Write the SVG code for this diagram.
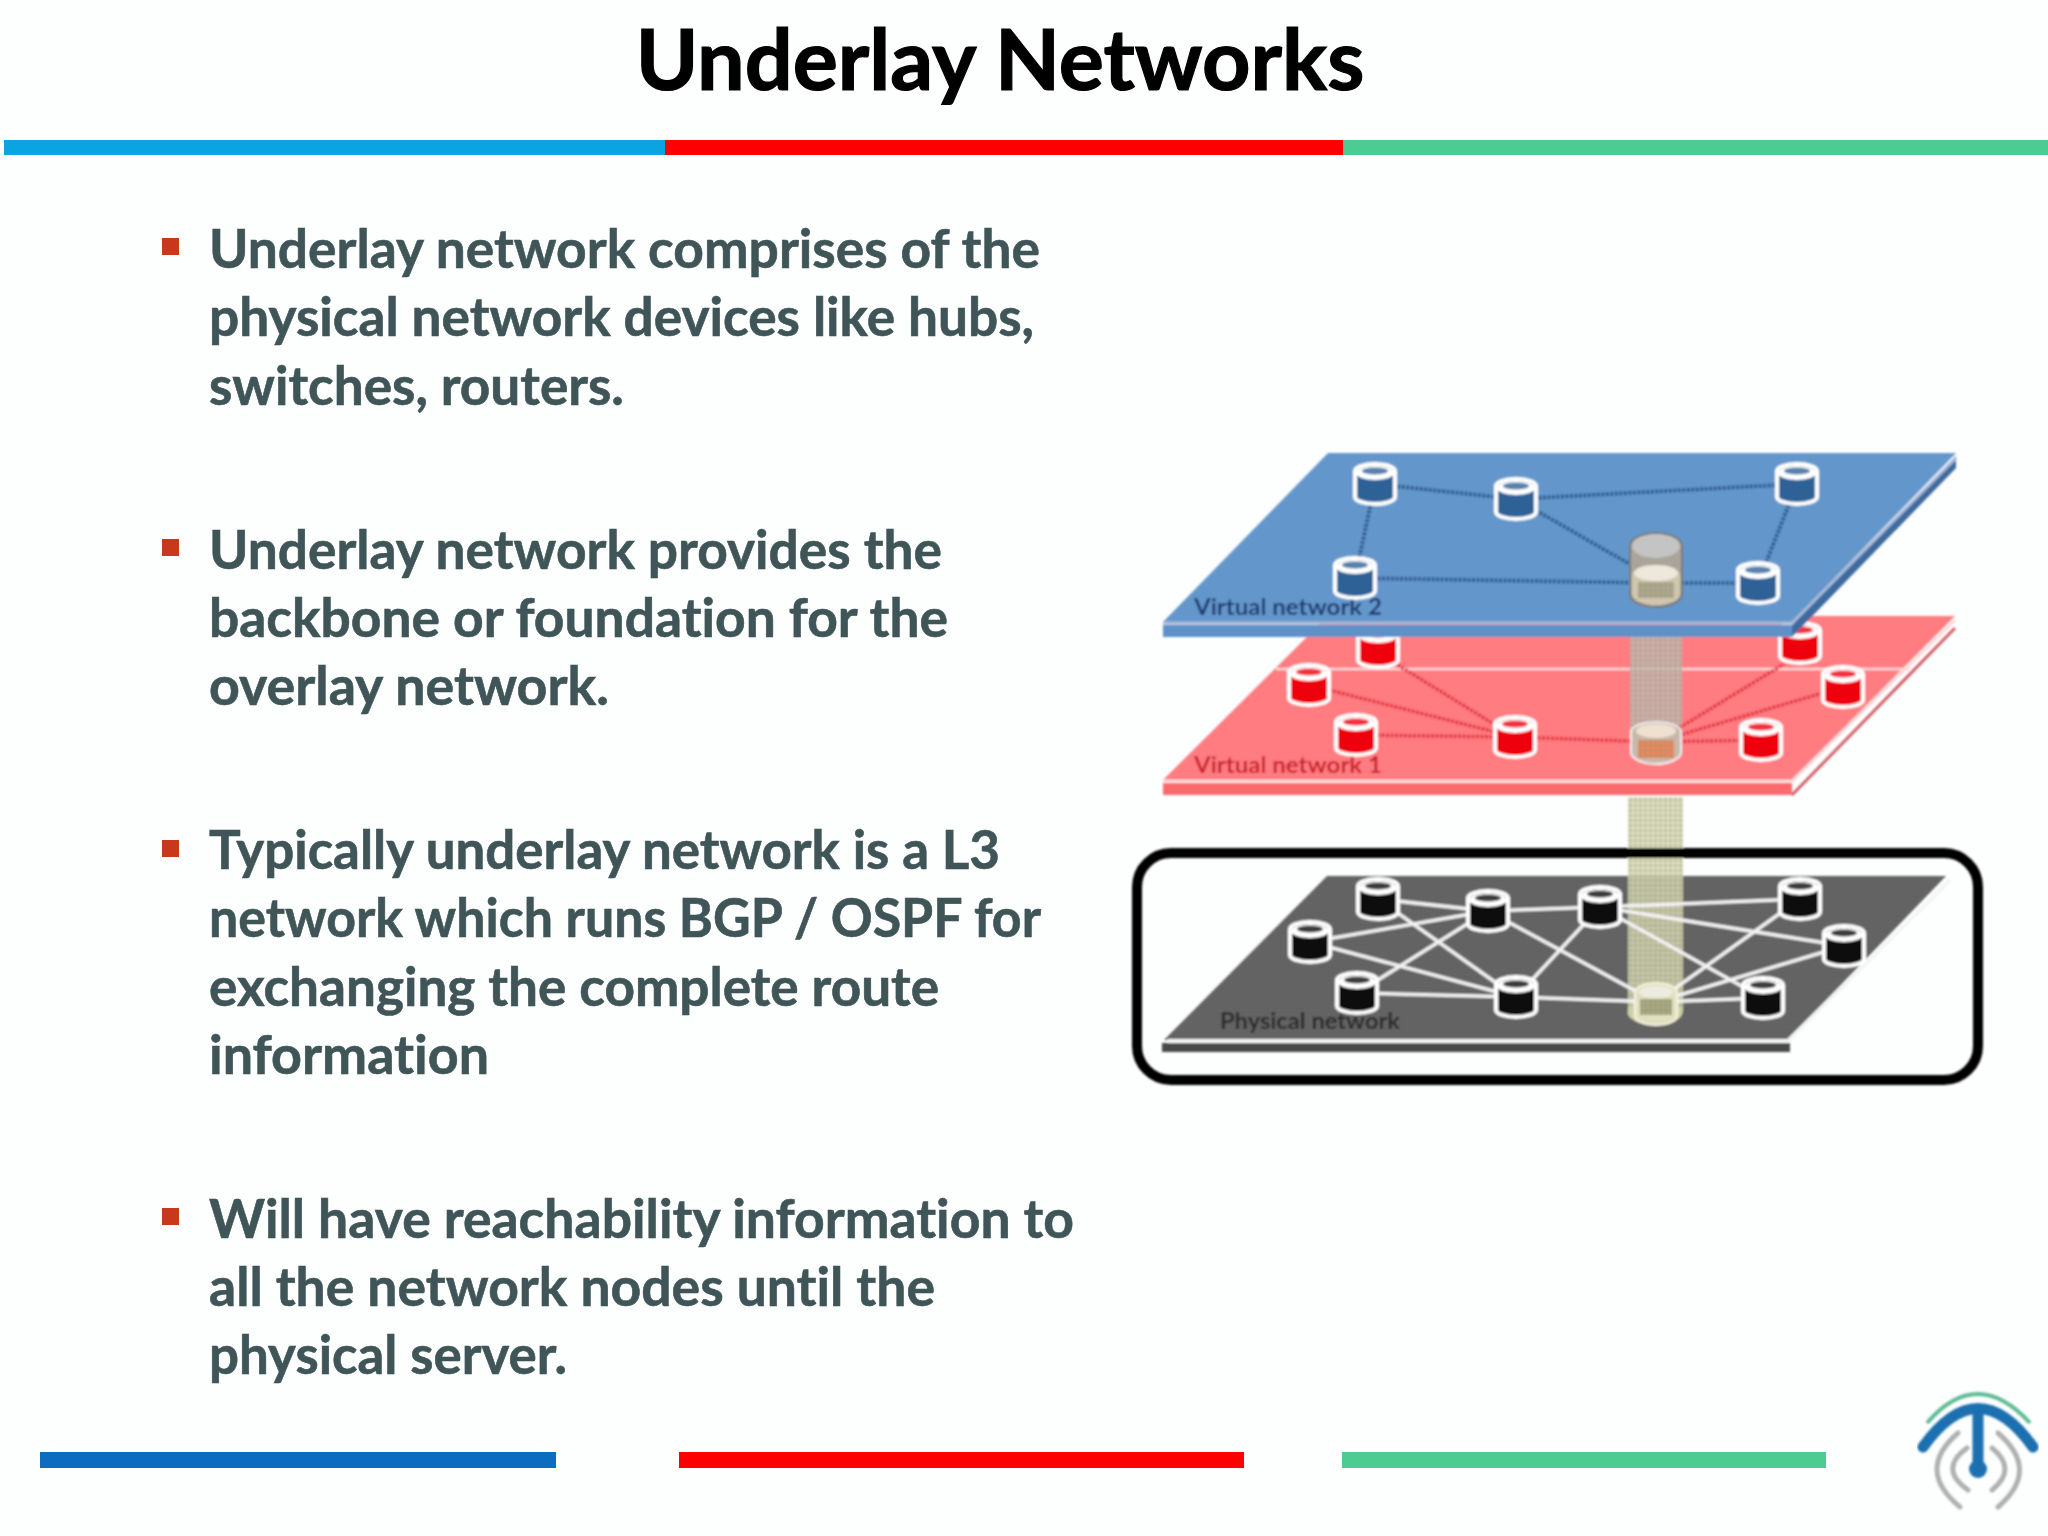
<svg xmlns="http://www.w3.org/2000/svg" width="2048" height="1536" viewBox="0 0 2048 1536">
<style>
.title{font:700 84.500px Lato,"Liberation Sans",sans-serif;fill:#000;text-anchor:middle;stroke:#000;stroke-width:1.2;font-variant-ligatures:none}
.body{font:700 53px Lato,"Liberation Sans",sans-serif;fill:#3f5557;stroke:#3f5557;stroke-width:.6;font-variant-ligatures:none}
.bullet{fill:#c8381a}
.lbl{font:700 23px Lato,"Liberation Sans",sans-serif;font-variant-ligatures:none}
.blue{color:#2f6297}.red{color:#ee0010}.blk{color:#0c0c0c}
.lb{stroke:#2c5a90;stroke-width:4;stroke-dasharray:3 1.5;fill:none}
.lr{stroke:#e0303c;stroke-width:3.500;stroke-dasharray:3 1.5;fill:none}
.lk{stroke:#f2f2f2;stroke-width:3.500;fill:none}
.gr{stroke:#b0b0b0;stroke-width:5;fill:none;stroke-linecap:round}
</style>
<defs>
<filter id="soft" x="-5%" y="-5%" width="110%" height="110%"><feGaussianBlur stdDeviation="0.8"/></filter>
<pattern id="grid" width="4" height="4" patternUnits="userSpaceOnUse"><rect width="4" height="4" fill="#686868"/><path d="M0 0H4M0 0V4" stroke="#555" stroke-width="1"/></pattern>
<pattern id="tubeg" width="5" height="5" patternUnits="userSpaceOnUse"><path d="M0 0H5M0 0V5" stroke="#8a8a70" stroke-width="0.8" fill="none"/></pattern>
<g id="cyl">
<path d="M-20 -13V13A20 7 0 0 0 20 13V-13A20 7 0 0 0 -20 -13Z" fill="currentColor" stroke="#fff" stroke-width="4"/>
<ellipse cx="0" cy="-11" rx="19" ry="7" fill="#fff"/>
<ellipse cx="0" cy="-13" rx="13" ry="3.500" fill="currentColor" opacity=".8"/>
</g>
</defs>
<rect id="background" width="2048" height="1536" fill="#fdfefe"/>
<text class="title" x="1000" y="90">Underlay Networks</text>
<g id="top-bar"><rect x="4" y="140" width="661" height="15" fill="#0aa5e0"/><rect x="665" y="140" width="678" height="15" fill="#ff0000"/><rect x="1343" y="140" width="705" height="15" fill="#4ccb93"/></g>
<g id="bullets">
<rect class="bullet" x="162" y="238" width="17" height="17"/>
<rect class="bullet" x="162" y="539" width="17" height="17"/>
<rect class="bullet" x="162" y="840" width="17" height="17"/>
<rect class="bullet" x="162" y="1208" width="17" height="17"/>
<text class="body" x="209" y="268" textLength="831" lengthAdjust="spacingAndGlyphs">Underlay network comprises of the</text>
<text class="body" x="209" y="336" textLength="825" lengthAdjust="spacingAndGlyphs">physical network devices like hubs,</text>
<text class="body" x="209" y="405" textLength="415" lengthAdjust="spacingAndGlyphs">switches, routers.</text>
<text class="body" x="209" y="569" textLength="733" lengthAdjust="spacingAndGlyphs">Underlay network provides the</text>
<text class="body" x="209" y="637" textLength="739" lengthAdjust="spacingAndGlyphs">backbone or foundation for the</text>
<text class="body" x="209" y="705" textLength="400" lengthAdjust="spacingAndGlyphs">overlay network.</text>
<text class="body" x="209" y="869" textLength="791" lengthAdjust="spacingAndGlyphs">Typically underlay network is a L3</text>
<text class="body" x="209" y="937" textLength="832" lengthAdjust="spacingAndGlyphs">network which runs BGP / OSPF for</text>
<text class="body" x="209" y="1006" textLength="730" lengthAdjust="spacingAndGlyphs">exchanging the complete route</text>
<text class="body" x="209" y="1074" textLength="280" lengthAdjust="spacingAndGlyphs">information</text>
<text class="body" x="209" y="1238" textLength="865" lengthAdjust="spacingAndGlyphs">Will have reachability information to</text>
<text class="body" x="209" y="1306" textLength="726" lengthAdjust="spacingAndGlyphs">all the network nodes until the</text>
<text class="body" x="209" y="1374" textLength="358" lengthAdjust="spacingAndGlyphs">physical server.</text>
</g>
<g id="diagram" filter="url(#soft)">
<g id="plane-physical">
<polygon points="1327,876 1946,876 1788,1040 1164,1040" fill="url(#grid)"/>
<rect x="1162" y="1043" width="628" height="9" fill="#4a4a4a"/>
<path d="M1168 1041H1788L1950 880" stroke="#f4f4f4" stroke-width="4" fill="none"/>
<text class="lbl" x="1220" y="1029" fill="#2a2a2a" textLength="180" lengthAdjust="spacingAndGlyphs">Physical network</text>
</g>
<g id="tube-lower"><rect x="1628" y="797" width="55" height="215" fill="#d8d8b4" opacity=".85"/><rect x="1628" y="797" width="55" height="215" fill="url(#tubeg)"/><ellipse cx="1655" cy="1012" rx="27.500" ry="13" fill="#d0d0a8"/></g>
<g id="plane-red">
<polygon points="1328,616 1955,616 1792,780 1163,780" fill="#ff7c80"/>
<rect x="1163" y="783" width="629" height="12" fill="#f96a6e"/>
<path d="M1163 781H1792L1955 620" stroke="#ffd8d8" stroke-width="3" fill="none"/>
<path d="M1792 795L1955 628" stroke="#d06068" stroke-width="3" fill="none"/>
<path d="M1276 669H1910" stroke="#ffd8d8" stroke-width="2.500"/>
<text class="lbl" x="1194" y="773" fill="#c9202c" textLength="188" lengthAdjust="spacingAndGlyphs">Virtual network 1</text>
</g>
<g id="node-r1" class="red"><use href="#cyl" x="1378" y="647"/></g>
<g id="node-r2" class="red"><use href="#cyl" x="1800" y="643"/></g>
<g id="tube-upper"><rect x="1630" y="630" width="52" height="123" fill="#c4bdb4" opacity=".8"/><rect x="1630" y="630" width="52" height="123" fill="url(#tubeg)"/></g>
<g id="plane-blue">
<polygon points="1328,453 1956,453 1792,622 1163,622" fill="#6497cb"/>
<rect x="1163" y="625" width="629" height="12" fill="#5f91c9"/>
<polygon points="1956,456 1956,468 1792,637 1792,625" fill="#3d6a9f"/>
<path d="M1163 623H1792L1956 458" stroke="#a8b8d8" stroke-width="3" fill="none"/>
<text class="lbl" x="1194" y="615" fill="#1f3a70" textLength="188" lengthAdjust="spacingAndGlyphs">Virtual network 2</text>
</g>
<g id="connectors">
<path class="lb" d="M1375 484L1516 499M1516 499L1797 484M1375 484L1355 578M1797 484L1758 583M1516 499L1654 578M1355 578L1654 583M1654 583L1758 583"/>
<path class="lr" d="M1515 737L1396 664M1515 737L1309 685M1515 737L1356 735M1515 737L1656 742M1656 742L1784 664M1656 742L1843 687M1656 742L1761 740"/>
<path class="lk" d="M1378 899L1488 911M1378 899L1516 997M1310 942L1488 911M1310 942L1516 997M1357 993L1488 911M1357 993L1516 997M1488 911L1600 907M1488 911L1656 1002M1600 907L1516 997M1516 997L1656 1002M1600 907L1800 899M1600 907L1844 946M1600 907L1763 998M1800 899L1656 1002M1844 946L1656 1002M1656 1002L1763 998"/>
</g>
<g id="node-b1" class="blue"><use href="#cyl" x="1375" y="484"/></g>
<g id="node-b2" class="blue"><use href="#cyl" x="1516" y="499"/></g>
<g id="node-b3" class="blue"><use href="#cyl" x="1797" y="484"/></g>
<g id="node-b4" class="blue"><use href="#cyl" x="1355" y="578"/></g>
<g id="node-b5" class="blue"><use href="#cyl" x="1758" y="583"/></g>
<g id="node-b-center">
<path d="M1630 546V594A26 13 0 0 0 1682 594V546A26 13 0 0 0 1630 546Z" fill="#aaa49a" stroke="#777" stroke-width="2"/>
<ellipse cx="1656" cy="546" rx="24" ry="12" fill="#c4c4c4"/>
<path d="M1632 575V594A24 11 0 0 0 1680 594V575A24 10 0 0 0 1632 575Z" fill="#d0c6ae"/>
<ellipse cx="1656" cy="573" rx="22" ry="8" fill="#ece8dc"/>
<rect x="1638" y="582" width="36" height="16" fill="#b0a890"/>
<rect x="1638" y="582" width="36" height="16" fill="url(#tubeg)"/>
</g>
<g id="node-r3" class="red"><use href="#cyl" x="1309" y="685"/></g>
<g id="node-r4" class="red"><use href="#cyl" x="1843" y="687"/></g>
<g id="node-r5" class="red"><use href="#cyl" x="1356" y="735"/></g>
<g id="node-r6" class="red"><use href="#cyl" x="1515" y="737"/></g>
<g id="node-r7" class="red"><use href="#cyl" x="1761" y="740"/></g>
<g id="node-r-center">
<path d="M1631 732V752A25 12 0 0 0 1681 752V732A25 10 0 0 0 1631 732Z" fill="#c8b8a8" stroke="#eee" stroke-width="2"/>
<ellipse cx="1656" cy="731" rx="20" ry="7" fill="#f0e0d0"/>
<rect x="1638" y="740" width="36" height="18" fill="#e88a60"/>
<rect x="1638" y="740" width="36" height="18" fill="url(#tubeg)"/>
</g>
<g id="node-p1" class="blk"><use href="#cyl" x="1378" y="899"/></g>
<g id="node-p2" class="blk"><use href="#cyl" x="1488" y="911"/></g>
<g id="node-p3" class="blk"><use href="#cyl" x="1600" y="907"/></g>
<g id="node-p4" class="blk"><use href="#cyl" x="1800" y="899"/></g>
<g id="node-p5" class="blk"><use href="#cyl" x="1310" y="942"/></g>
<g id="node-p6" class="blk"><use href="#cyl" x="1844" y="946"/></g>
<g id="node-p7" class="blk"><use href="#cyl" x="1357" y="993"/></g>
<g id="node-p8" class="blk"><use href="#cyl" x="1516" y="997"/></g>
<g id="node-p9" class="blk"><use href="#cyl" x="1763" y="998"/></g>
<g id="node-p-center">
<path d="M1635 992V1016A21 9 0 0 0 1677 1016V992A21 9 0 0 0 1635 992Z" fill="#e0e0c0" stroke="#f4f4e0" stroke-width="2"/>
<ellipse cx="1656" cy="992" rx="17" ry="6" fill="#ecece0"/>
<rect x="1640" y="999" width="32" height="16" fill="#a8a880"/>
<rect x="1640" y="999" width="32" height="16" fill="url(#tubeg)"/>
</g>
<rect id="highlight-box" x="1137" y="853" width="841" height="227" rx="34" fill="none" stroke="#000" stroke-width="10"/>
</g>
<g id="bottom-bar"><rect x="40" y="1452" width="516" height="16" fill="#0b6cc0"/><rect x="679" y="1452" width="565" height="16" fill="#ff0000"/><rect x="1342" y="1452" width="484" height="16" fill="#4ccb93"/></g>
<g id="logo" filter="url(#soft)">
<path d="M1927 1423Q1977 1365 2030 1423" stroke="#5dbb94" stroke-width="4" fill="none"/>
<path class="gr" d="M1958 1433Q1915 1470 1960 1507M1998 1433Q2041 1470 1998 1507M1967 1448Q1938 1469 1968 1490M1992 1448Q2018 1469 1992 1490"/>
<path d="M1923 1447Q1978 1370 2033 1447" stroke="#1a6fb0" stroke-width="11" stroke-linecap="round" fill="none"/>
<path d="M1978 1410V1468" stroke="#1a6fb0" stroke-width="11"/>
<circle cx="1978" cy="1469" r="9" fill="#1a6fb0"/>
</g>
</svg>
